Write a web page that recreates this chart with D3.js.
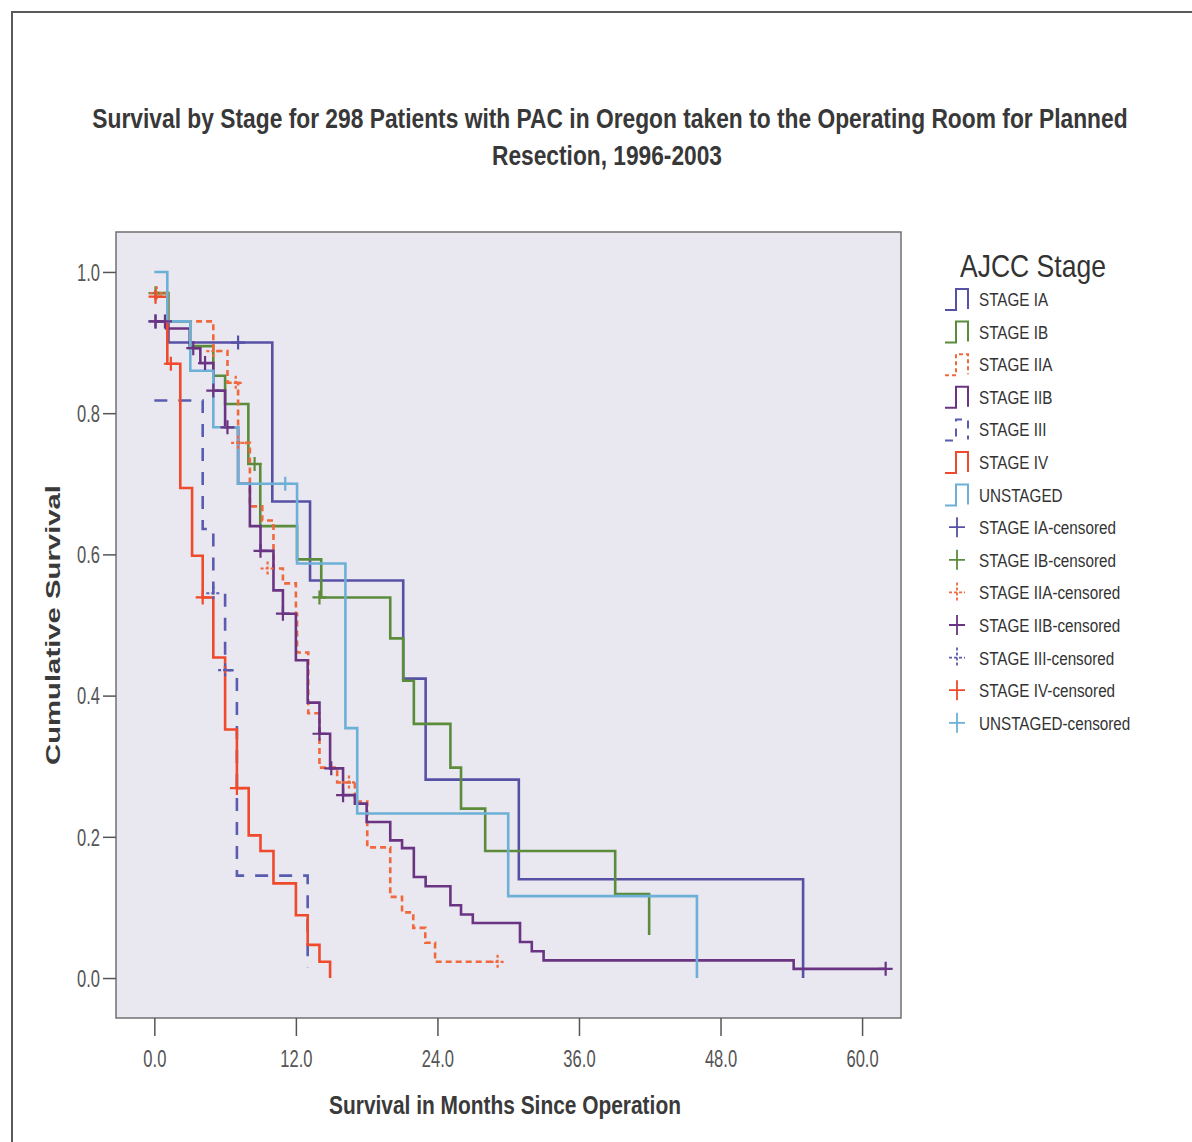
<!DOCTYPE html>
<html>
<head>
<meta charset="utf-8">
<script src="https://cdn.jsdelivr.net/npm/d3@7"></script>
<style>
  html, body { margin: 0; padding: 0; background: #fff; }
  svg { display: block; }
</style>
</head>
<body>
<svg id="chart" width="1192" height="1142"></svg>
<script>
// ---------------- DATA ----------------
const xTicks = [0, 12, 24, 36, 48, 60];
const yTicks = [0, 0.2, 0.4, 0.6, 0.8, 1.0];

const stageNames = ["STAGE IA", "STAGE IB", "STAGE IIA", "STAGE IIB", "STAGE III", "STAGE IV", "UNSTAGED"];

// step survival: time (months), survival value holding from that time on
const iaT = [0, 1.2, 10.0, 13.2, 21.1, 23.0, 30.9, 55.0];
const iaS = [0.93, 0.90, 0.675, 0.563, 0.424, 0.281, 0.14, 0.0];
const iaCT = [0.1, 7.1];
const iaCS = [0.93, 0.90];

const ibT = [0, 1.2, 3.05, 5.0, 6.0, 7.97, 8.98, 12.1, 14.15, 20.0, 21.1, 22.0, 25.1, 26.0, 28.05, 39.07, 41.95];
const ibS = [0.97, 0.93, 0.895, 0.853, 0.813, 0.728, 0.64, 0.593, 0.539, 0.481, 0.421, 0.36, 0.298, 0.24, 0.18, 0.119, 0.061];
const ibCT = [0.1, 8.5, 14.0];
const ibCS = [0.97, 0.728, 0.539];

const iiaT = [0, 1.1, 5.0, 6.2, 7.1, 8.1, 9.15, 10.1, 10.9, 12.0, 12.1, 13.05, 14.0, 15.5, 17.0, 18.05, 20.0, 21.0, 21.95, 22.97, 23.8, 29.1];
const iiaS = [0.97, 0.93, 0.888, 0.843, 0.758, 0.668, 0.648, 0.58, 0.559, 0.516, 0.461, 0.375, 0.298, 0.277, 0.25, 0.185, 0.115, 0.093, 0.071, 0.05, 0.023, 0.023];
const iiaCT = [0.2, 5.0, 6.9, 7.1, 9.6, 16.5, 29.1];
const iiaCS = [0.97, 0.888, 0.843, 0.758, 0.58, 0.277, 0.023];

const iibT = [0, 1.0, 3.0, 3.9, 5.0, 6.0, 7.1, 8.1, 9.0, 10.1, 10.9, 12.0, 13.0, 14.0, 14.9, 16.0, 17.0, 18.0, 20.0, 21.0, 22.0, 23.0, 25.1, 26.0, 27.0, 31.0, 32.0, 33.0, 54.2, 62.0];
const iibS = [0.93, 0.92, 0.892, 0.871, 0.832, 0.78, 0.70, 0.64, 0.605, 0.549, 0.516, 0.45, 0.39, 0.346, 0.297, 0.259, 0.247, 0.221, 0.195, 0.184, 0.143, 0.13, 0.103, 0.09, 0.078, 0.051, 0.038, 0.025, 0.013, 0.013];
const iibCT = [0.1, 0.9, 3.3, 4.3, 5.0, 6.2, 9.0, 10.9, 14.0, 15.0, 16.0, 62.0];
const iibCS = [0.93, 0.93, 0.892, 0.871, 0.832, 0.78, 0.605, 0.516, 0.346, 0.297, 0.259, 0.013];

const iiiT = [0, 4.1, 5.0, 6.0, 7.0, 13.0];
const iiiS = [0.818, 0.636, 0.545, 0.436, 0.145, 0.015];
const iiiCT = [5.0, 6.0];
const iiiCS = [0.545, 0.436];

const ivT = [0, 1.1, 2.2, 3.2, 4.1, 5.0, 6.0, 7.0, 8.0, 9.0, 10.1, 12.0, 13.0, 14.0, 14.9];
const ivS = [0.965, 0.87, 0.694, 0.598, 0.539, 0.454, 0.352, 0.269, 0.202, 0.18, 0.134, 0.089, 0.047, 0.023, 0.0];
const ivCT = [0.1, 1.4, 4.1, 7.0];
const ivCS = [0.965, 0.87, 0.539, 0.269];

const unT = [0, 1.1, 3.05, 5.0, 7.1, 12.1, 16.2, 17.2, 30.0, 46.0];
const unS = [1.0, 0.93, 0.86, 0.78, 0.70, 0.587, 0.354, 0.233, 0.116, 0.0];
const unCT = [11.1];
const unCS = [0.70];

// ---------------- STYLES ----------------
const seriesStyle = [
  { t: iaT,  s: iaS,  ct: iaCT,  cs: iaCS,  color: "#5751a6", dash: null },
  { t: ibT,  s: ibS,  ct: ibCT,  cs: ibCS,  color: "#5b8c3c", dash: null },
  { t: iiaT, s: iiaS, ct: iiaCT, cs: iiaCS, color: "#f0683c", dash: "6,4" },
  { t: iibT, s: iibS, ct: iibCT, cs: iibCS, color: "#6a3482", dash: null },
  { t: iiiT, s: iiiS, ct: iiiCT, cs: iiiCS, color: "#5a5cb0", dash: "13,11" },
  { t: ivT,  s: ivS,  ct: ivCT,  cs: ivCS,  color: "#f04a2c", dash: null },
  { t: unT,  s: unS,  ct: unCT,  cs: unCS,  color: "#6cb0d8", dash: null }
];

const SANS = "'Liberation Sans', Arial, sans-serif";

const svg = d3.select("#chart");

// helper: place text at (x, y) with anchor, horizontally scaled by factor sx
function narrowText(parent, str, x0, y0, size, weight, fill, sx, anchor) {
  const t = parent.append("text").text(str)
    .attr("font-family", SANS).attr("font-size", size).attr("font-weight", weight)
    .attr("fill", fill).attr("text-anchor", anchor || "start")
    .attr("transform", `translate(${x0},${y0}) scale(${sx},1)`);
  return t;
}
// fit text to a target width (scaling horizontally)
function fitText(parent, str, x0, y0, size, weight, fill, width, anchor) {
  const t = narrowText(parent, str, x0, y0, size, weight, fill, 1, anchor);
  const w = t.node().getComputedTextLength();
  t.attr("transform", `translate(${x0},${y0}) scale(${width / w},1)`);
  return t;
}

// outer frame
svg.append("path")
  .attr("d", "M12,1142 L12,12 L1192,12")
  .attr("fill", "none").attr("stroke", "#5a5a5a").attr("stroke-width", 2);

// plot area
const P = { left: 116, right: 901, top: 232, bottom: 1018 };
const x = d3.scaleLinear().domain([-3.25, 63.3]).range([P.left, P.right]);
const y = d3.scaleLinear().domain([-0.0566, 1.0566]).range([P.bottom, P.top]);

svg.append("rect")
  .attr("x", P.left).attr("y", P.top)
  .attr("width", P.right - P.left).attr("height", P.bottom - P.top)
  .attr("fill", "#e9e7ef").attr("stroke", "#707070").attr("stroke-width", 1.5);

// title
const title1 = "Survival by Stage for 298 Patients with PAC in Oregon taken to the Operating Room for Planned";
const title2 = "Resection, 1996-2003";
fitText(svg, title1, 610, 128, 28, "bold", "#383838", 1036, "middle");
fitText(svg, title2, 607, 165, 28, "bold", "#383838", 230, "middle");

// axes
const TICK_SX = 0.72;
const xAxis = d3.axisBottom(x).tickValues(xTicks).tickFormat(d3.format(".1f")).tickSize(18).tickSizeOuter(0);
const gx = svg.append("g").attr("transform", `translate(0,${P.bottom})`).call(xAxis);
gx.select(".domain").remove();
gx.selectAll(".tick line").attr("stroke", "#555").attr("stroke-width", 1.5);
gx.selectAll(".tick text")
  .attr("font-family", SANS).attr("font-size", 23).attr("fill", "#555")
  .attr("y", 0).attr("dy", 0)
  .attr("transform", `translate(0,49) scale(${TICK_SX},1)`);

const yAxis = d3.axisLeft(y).tickValues(yTicks).tickFormat(d3.format(".1f")).tickSize(13).tickSizeOuter(0);
const gy = svg.append("g").attr("transform", `translate(${P.left},0)`).call(yAxis);
gy.select(".domain").remove();
gy.selectAll(".tick line").attr("stroke", "#555").attr("stroke-width", 1.5);
gy.selectAll(".tick text")
  .attr("font-family", SANS).attr("font-size", 23).attr("fill", "#555")
  .attr("x", 0).attr("dy", "0.36em")
  .attr("transform", `translate(-16,0) scale(${TICK_SX},1)`);

// axis labels
fitText(svg, "Survival in Months Since Operation", 505, 1114, 25, "bold", "#3a3a3a", 352, "middle");
svg.append("text").text("Cumulative Survival")
  .attr("transform", "translate(60,625) rotate(-90)").attr("text-anchor", "middle")
  .attr("font-family", SANS).attr("font-weight", "bold").attr("font-size", 21)
  .attr("fill", "#3a3a3a").attr("textLength", 280).attr("lengthAdjust", "spacingAndGlyphs");

// curves
const line = d3.line().x(d => x(d[0])).y(d => y(d[1])).curve(d3.curveStepAfter);
const gCurves = svg.append("g");
const gCens = svg.append("g");
seriesStyle.forEach(st => {
  const pts = st.t.map((t, i) => [t, st.s[i]]);
  gCurves.append("path").datum(pts)
    .attr("d", line).attr("fill", "none")
    .attr("stroke", st.color).attr("stroke-width", 2.6)
    .attr("stroke-dasharray", st.dash)
    .attr("stroke-linejoin", "miter");
  st.ct.forEach((t, i) => {
    const cx = x(t), cy = y(st.cs[i]);
    gCens.append("path")
      .attr("d", `M${cx - 7},${cy} L${cx + 7},${cy} M${cx},${cy - 7} L${cx},${cy + 7}`)
      .attr("stroke", st.color).attr("stroke-width", 2.2)
      .attr("stroke-dasharray", st.dash ? "3,2" : null);
  });
});

// legend
const L = { x: 947, y0: 299, dy: 32.6 };
fitText(svg, "AJCC Stage", 960, 277, 32, "normal", "#333", 146, "start");

const legendItems = [];
stageNames.forEach((n, i) => legendItems.push({ label: n, style: seriesStyle[i], kind: "line" }));
stageNames.forEach((n, i) => legendItems.push({ label: n + "-censored", style: seriesStyle[i], kind: "cens" }));

// common horizontal scale for legend labels, from the widest label's reference width
const probe = narrowText(svg, "STAGE IA-censored", 0, -100, 19, "normal", "#333", 1);
const LEG_SX = 137 / probe.node().getComputedTextLength();
probe.remove();

legendItems.forEach((it, i) => {
  const cy = L.y0 + i * L.dy;
  const g = svg.append("g");
  if (it.kind === "line") {
    g.append("path")
      .attr("d", `M${L.x - 2},${cy + 11} L${L.x + 9},${cy + 11} L${L.x + 9},${cy - 10} L${L.x + 21},${cy - 10} L${L.x + 21},${cy + 10}`)
      .attr("fill", "none").attr("stroke", it.style.color).attr("stroke-width", 2)
      .attr("stroke-dasharray", it.style.dash ? (it.style.dash === "6,4" ? "4,3" : "8,7") : null);
  } else {
    const cx = L.x + 10;
    g.append("path")
      .attr("d", `M${cx - 8},${cy} L${cx + 8},${cy} M${cx},${cy - 10} L${cx},${cy + 10}`)
      .attr("fill", "none").attr("stroke", it.style.color).attr("stroke-width", 1.8)
      .attr("stroke-dasharray", it.style.dash ? "3,2" : null);
  }
  narrowText(g, it.label, 979, cy + 7, 19, "normal", "#333", LEG_SX);
});
</script>
</body>
</html>
